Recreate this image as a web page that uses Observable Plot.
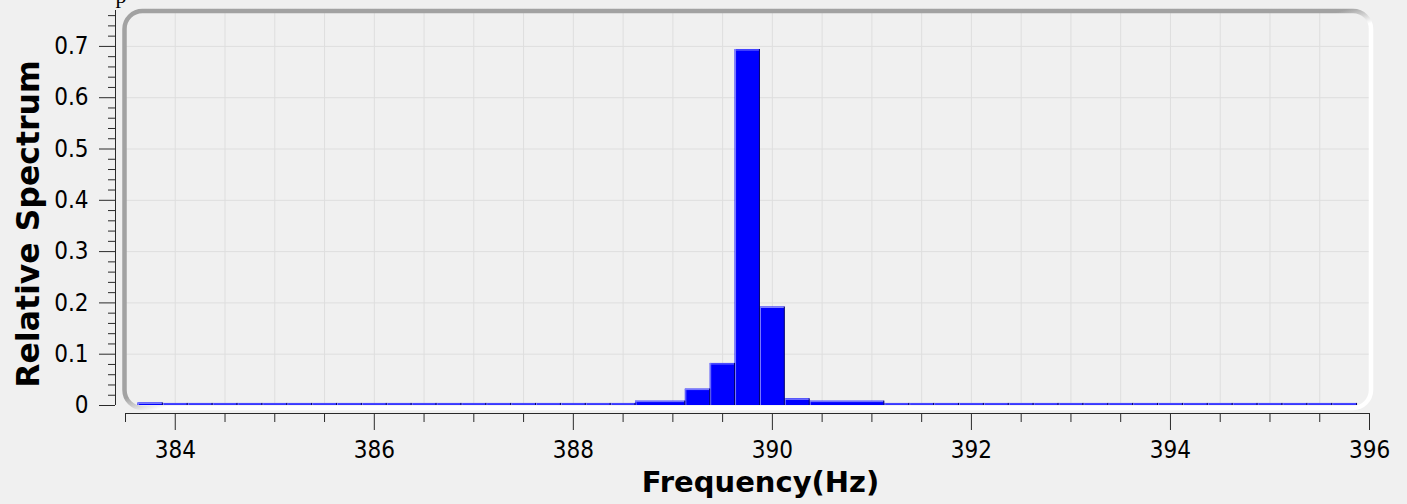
<!DOCTYPE html>
<html>
<head>
<meta charset="utf-8">
<script src="https://cdn.jsdelivr.net/npm/d3@7"></script>
<script src="https://cdn.jsdelivr.net/npm/@observablehq/plot@0.6"></script>
<style>
  html, body { margin: 0; padding: 0; background: #f0f0f0; }
  #chart svg { display: block; }
</style>
</head>
<body>
<div id="chart"></div>
<script>
// ---- data ----
const binEdges = [
  383.625, 383.875, 384.125, 384.375, 384.625, 384.875, 385.125, 385.375, 385.625, 385.875,
  386.125, 386.375, 386.625, 386.875, 387.125, 387.375, 387.625, 387.875, 388.125, 388.375,
  388.625, 389.125, 389.375, 389.625, 389.875, 390.125, 390.375, 391.125, 391.375, 391.625,
  391.875, 392.125, 392.375, 392.625, 392.875, 393.125, 393.375, 393.625, 393.875, 394.125,
  394.375, 394.625, 394.875, 395.125, 395.375, 395.625, 395.875
];
const spectrum = [
  0.005, 0.004, 0.004, 0.004, 0.004, 0.004, 0.004, 0.004, 0.004, 0.004,
  0.004, 0.004, 0.004, 0.004, 0.004, 0.004, 0.004, 0.004, 0.004, 0.004,
  0.0085, 0.032, 0.082, 0.694, 0.192, 0.013, 0.0085,
  0.004, 0.004, 0.004, 0.004, 0.004, 0.004, 0.004, 0.004, 0.004, 0.004,
  0.004, 0.004, 0.004, 0.004, 0.004, 0.004, 0.004, 0.004, 0.004
];
const xMajorTicks = [384, 386, 388, 390, 392, 394, 396];
const xMinorTicks = [383.5, 384.5, 385, 385.5, 386.5, 387, 387.5, 388.5, 389, 389.5, 390.5, 391, 391.5,
                     392.5, 393, 393.5, 394.5, 395, 395.5];
const xGridLines = [384, 384.5, 385, 385.5, 386, 386.5, 387, 387.5, 388, 388.5, 389, 389.5, 390, 390.5,
                    391, 391.5, 392, 392.5, 393, 393.5, 394, 394.5, 395, 395.5];
const yMajorTicks = [0, 0.1, 0.2, 0.3, 0.4, 0.5, 0.6, 0.7];
const yMinorTicks = [0.02, 0.04, 0.06, 0.08, 0.12, 0.14, 0.16, 0.18, 0.22, 0.24, 0.26, 0.28,
                     0.32, 0.34, 0.36, 0.38, 0.42, 0.44, 0.46, 0.48, 0.52, 0.54, 0.56, 0.58,
                     0.62, 0.64, 0.66, 0.68, 0.72, 0.74, 0.76];
const yGridLines = [0.1, 0.2, 0.3, 0.4, 0.5, 0.6, 0.7];
const xTitle = "Frequency(Hz)";
const yTitle = "Relative Spectrum";
const titleFragment = "p";

const bins = spectrum.map((v, i) => ({x1: binEdges[i], x2: binEdges[i + 1], y: v}));

const tickFont = "'DejaVu Sans Condensed', 'DejaVu Sans', sans-serif";
const titleFont = "'DejaVu Sans', Verdana, sans-serif";
const axisColor = "#2a2a2a";

const defsMark = () => {
  const defs = d3.create("svg:defs");
  const g = defs.append("linearGradient")
    .attr("id", "frameGrad")
    .attr("x1", 0).attr("y1", 0).attr("x2", 1).attr("y2", 1);
  g.append("stop").attr("offset", 0).attr("stop-color", "#a2a2a2");
  g.append("stop").attr("offset", 0.488).attr("stop-color", "#a2a2a2");
  g.append("stop").attr("offset", 0.515).attr("stop-color", "#ffffff");
  g.append("stop").attr("offset", 1).attr("stop-color", "#ffffff");
  return defs.node();
};

const chart = Plot.plot({
  width: 1407,
  height: 504,
  marginLeft: 125,
  marginRight: 38,
  marginTop: 10,
  marginBottom: 99,
  x: {domain: [383.5, 396]},
  y: {domain: [0, 0.77]},
  style: {background: "#f0f0f0", fontFamily: tickFont, color: "#000", overflow: "visible"},
  marks: [
    defsMark,
    Plot.ruleX(xGridLines, {stroke: "#dedede", strokeWidth: 1}),
    Plot.ruleY(yGridLines, {stroke: "#dedede", strokeWidth: 1}),
    Plot.rectY(bins, {x1: "x1", x2: "x2", y: "y", fill: "#0000ff"}),
    Plot.ruleX(bins, {x: "x1", y1: 0, y2: "y", stroke: "#8080ff", strokeWidth: 1, dx: 0.5}),
    Plot.ruleY(bins, {y: "y", x1: "x1", x2: "x2", stroke: "#8080ff", strokeWidth: 1, dy: 0.5}),
    Plot.ruleX(bins, {x: "x2", y1: 0, y2: "y", stroke: "#00006a", strokeWidth: 1, dx: -0.5}),
    Plot.frame({stroke: "url(#frameGrad)", strokeWidth: 4.5, rx: 18, ry: 18,
                insetTop: 0.5, insetLeft: -1, insetRight: -1.5, insetBottom: -2.5}),
    // y axis
    Plot.ruleX([383.5], {dx: -10, stroke: axisColor, strokeWidth: 1}),
    Plot.axisY({ticks: yMinorTicks, tickSize: 7, text: null, dx: -10, label: null, stroke: axisColor}),
    Plot.axisY({ticks: yMajorTicks, tickSize: 16, tickPadding: 11, dx: -10, label: null,
                stroke: axisColor, fontSize: 24, fill: "#000",
                tickFormat: d => d === 0 ? "0" : d3.format(".1f")(d)}),
    // x axis
    Plot.ruleY([0], {dy: 8, stroke: axisColor, strokeWidth: 1}),
    Plot.axisX({ticks: xMinorTicks, tickSize: 9, text: null, dy: 8, label: null, stroke: axisColor}),
    Plot.axisX({ticks: xMajorTicks, tickSize: 17, tickPadding: 10, dy: 8, label: null,
                stroke: axisColor, fontSize: 24, fill: "#000", tickFormat: d => String(d)}),
    // titles
    Plot.text([xTitle], {frameAnchor: "bottom", dx: 13, dy: 77, lineAnchor: "middle", textAnchor: "middle",
                         fontFamily: titleFont, fontWeight: "bold", fontSize: 29, fill: "#000"}),
    Plot.text([yTitle], {frameAnchor: "left", dx: -97, dy: 16, rotate: -90, lineAnchor: "middle",
                         textAnchor: "middle",
                         fontFamily: titleFont, fontWeight: "bold", fontSize: 31.5, fill: "#000"}),
    Plot.text([titleFragment], {frameAnchor: "top-left", dx: -10, dy: -15, textAnchor: "start",
                                lineAnchor: "middle", fontFamily: "'Liberation Serif', serif",
                                fontSize: 22, fill: "#000"})
  ]
});
document.getElementById("chart").appendChild(chart);
</script>
</body>
</html>
